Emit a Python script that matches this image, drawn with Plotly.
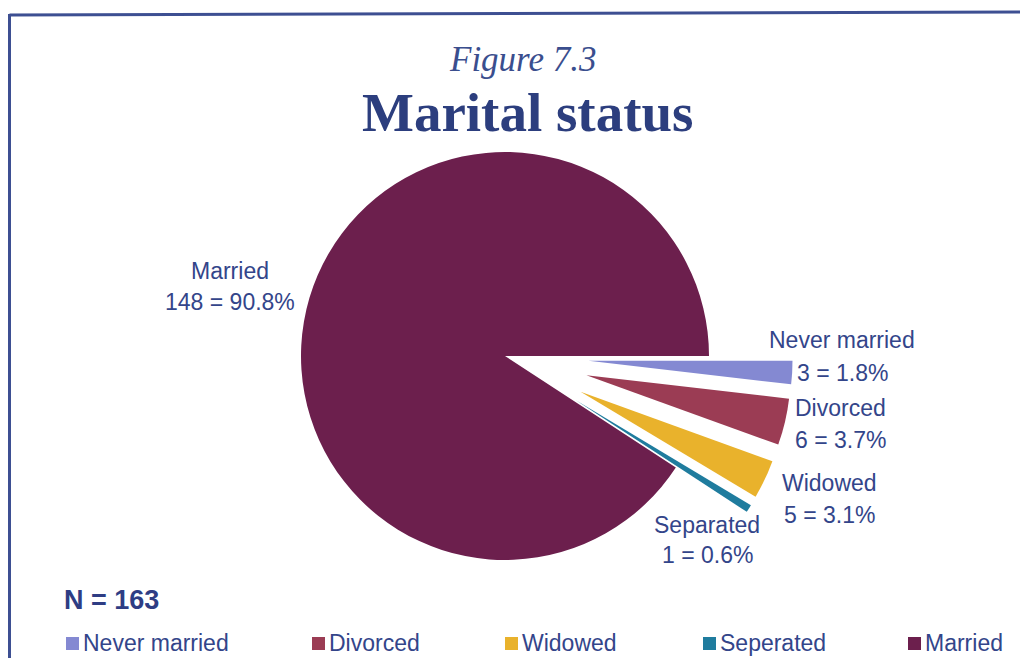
import plotly.graph_objects as go

# ---- data ----
legend_labels = ["Never married", "Divorced", "Widowed", "Seperated", "Married"]
slice_names = ["Never married", "Divorced", "Widowed", "Separated", "Married"]
counts = [3, 6, 5, 1, 148]
percents = [1.8, 3.7, 3.1, 0.6, 90.8]
total_n = 163
colors = ["#8489d2", "#9b3c54", "#e9b22c", "#1f7c9e", "#6c1f4d"]
pulls = [0.41, 0.41, 0.41, 0.41, 0.0]

# page is rendered with an 8px body margin; figure sized to fill the rest
OFF = 8
W, H = 1028 - OFF, 658 - OFF
TEXT_BLUE = "#33458a"

def px_x(x):
    return (x - OFF) / W

def px_y(y):
    return 1 - (y - OFF) / H

# pie geometry (layout, page pixels)
cx, cy, r = 505, 356, 204
box = r * (1 + max(pulls))

fig = go.Figure()
fig.add_trace(go.Pie(
    labels=legend_labels,
    values=counts,
    marker=dict(colors=colors, line=dict(width=0)),
    pull=pulls,
    sort=False,
    direction="clockwise",
    rotation=90,
    textinfo="none",
    hoverinfo="label+value+percent",
    showlegend=False,
    domain=dict(x=[px_x(cx - box), px_x(cx + box)],
                y=[px_y(cy + box), px_y(cy - box)]),
))

annotations = []
# (center x, line-1 center y, line-2 center y) in page pixels
label_pos = [(842, 340, 373), (840, 408, 440), (829, 483, 515), (707, 525, 555), (230, 271, 302)]
for name, c, p, (lx, ly1, ly2) in zip(slice_names, counts, percents, label_pos):
    for txt, ly in ((name, ly1), (f"{c} = {p}%", ly2)):
        annotations.append(dict(
            x=px_x(lx), y=px_y(ly), xref="paper", yref="paper",
            text=txt, showarrow=False,
            xanchor="center", yanchor="middle", align="center",
            font=dict(family="Liberation Sans, Arial", size=23, color=TEXT_BLUE),
        ))

# titles
annotations.append(dict(
    x=px_x(522), y=px_y(60), xref="paper", yref="paper", text="<i>Figure 7.3</i>",
    showarrow=False, xanchor="center", yanchor="middle",
    font=dict(family="Liberation Serif, Times New Roman", size=35, color="#3a4e8e"),
))
annotations.append(dict(
    x=px_x(527), y=px_y(112), xref="paper", yref="paper", text="<b>Marital status</b>",
    showarrow=False, xanchor="center", yanchor="middle",
    font=dict(family="Liberation Serif, Times New Roman", size=55, color="#2c3e7e"),
))
annotations.append(dict(
    x=px_x(62), y=px_y(600), xref="paper", yref="paper", text=f"<b>N = {total_n}</b>",
    showarrow=False, xanchor="left", yanchor="middle",
    font=dict(family="Liberation Sans, Arial", size=27, color="#2e3d84"),
))

# manual legend
legend_x = [66, 312, 505, 703, 908]
shapes = []
for lab, col, lx in zip(legend_labels, colors, legend_x):
    shapes.append(dict(type="rect", xref="paper", yref="paper",
                       x0=px_x(lx), x1=px_x(lx + 13), y0=px_y(650), y1=px_y(637),
                       fillcolor=col, line=dict(width=0)))
    annotations.append(dict(
        x=px_x(lx + 15), y=px_y(643), xref="paper", yref="paper", text=lab,
        showarrow=False, xanchor="left", yanchor="middle",
        font=dict(family="Liberation Sans, Arial", size=23, color=TEXT_BLUE),
    ))

# border frame
shapes.append(dict(type="line", xref="paper", yref="paper",
                   x0=px_x(9.5), x1=px_x(1040), y0=px_y(15), y1=px_y(12),
                   line=dict(color="#3d4f92", width=3)))
shapes.append(dict(type="line", xref="paper", yref="paper",
                   x0=px_x(9.5), x1=px_x(9.5), y0=px_y(14), y1=px_y(670),
                   line=dict(color="#3d4f92", width=3)))

fig.update_layout(
    width=W, height=H,
    margin=dict(l=0, r=0, t=0, b=0),
    paper_bgcolor="white", plot_bgcolor="white",
    annotations=annotations, shapes=shapes,
)

fig.write_html("out.html")
